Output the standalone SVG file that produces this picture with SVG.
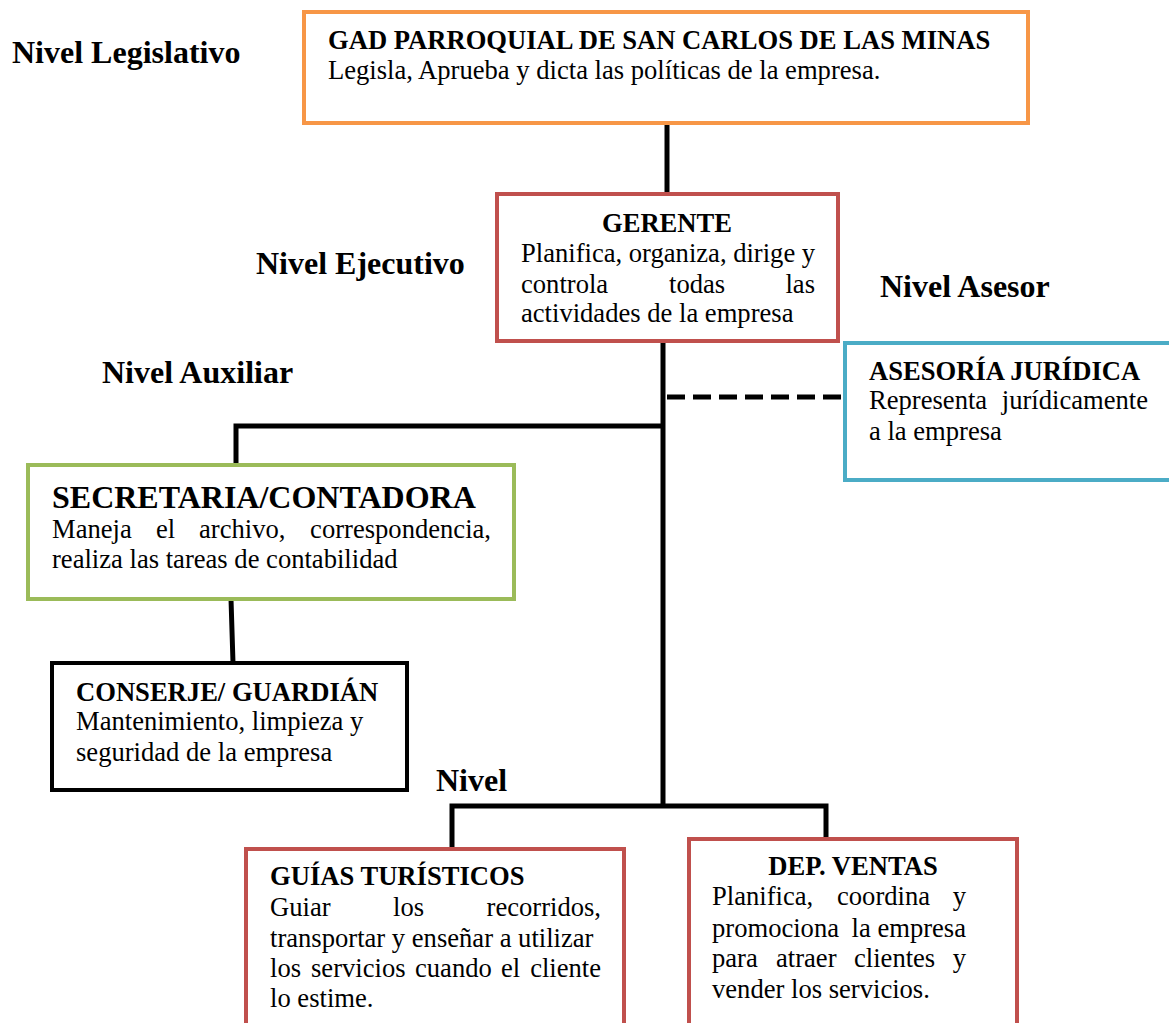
<svg xmlns="http://www.w3.org/2000/svg" width="1169" height="1023" viewBox="0 0 1169 1023">
<style>
.box{fill:#fff;stroke-width:4}
.t{font-family:"Liberation Serif","Times New Roman",serif;fill:#000;font-size:26.6px}
.b{font-weight:bold}
.big{font-size:32px}
.lvl{font-family:"Liberation Serif","Times New Roman",serif;font-weight:bold;font-size:32px;fill:#000}
.e{text-anchor:end}
.m{text-anchor:middle}
.con{stroke:#000;stroke-width:5;fill:none}
</style>
<rect width="1169" height="1023" fill="#fff"/>
<g id="levels">
<text class="lvl" x="12" y="63">Nivel Legislativo</text>
<text class="lvl" x="256" y="274">Nivel Ejecutivo</text>
<text class="lvl" x="880" y="297">Nivel Asesor</text>
<text class="lvl" x="102" y="383">Nivel Auxiliar</text>
<text class="lvl" x="436" y="791">Nivel</text>
</g>
<g id="connectors">
<line class="con" x1="667" y1="123" x2="667" y2="194"/>
<line class="con" x1="663" y1="341" x2="663" y2="807"/>
<polyline class="con" points="665,426 236,426 236,465"/>
<line class="con" x1="667" y1="397" x2="845" y2="397" stroke-dasharray="18,8"/>
<line class="con" x1="231" y1="599" x2="233" y2="663"/>
<polyline class="con" points="452,848 452,806 826,806 826,838"/>
</g>
<g id="gad">
<rect class="box" x="304" y="12" width="724" height="111" stroke="#F79646"/>
<text class="t b" x="328" y="49">GAD PARROQUIAL DE SAN CARLOS DE LAS MINAS</text>
<text class="t" x="328" y="79">Legisla, Aprueba y dicta las políticas de la empresa.</text>
</g>
<g id="gerente">
<rect class="box" x="497" y="194" width="341" height="147" stroke="#C0504D"/>
<text class="t b m" x="667" y="232">GERENTE</text>
<text class="t" x="521" y="262">Planifica, organiza, dirige y</text>
<text class="t" x="521" y="293">controla</text>
<text class="t" x="669" y="293">todas</text>
<text class="t e" x="815" y="293">las</text>
<text class="t" x="521" y="322">actividades de la empresa</text>
</g>
<g id="asesoria">
<rect class="box" x="845" y="343" width="330" height="137" stroke="#4BACC6"/>
<text class="t b" x="869" y="380">ASESORÍA JURÍDICA</text>
<text class="t" x="869" y="409">Representa</text>
<text class="t e" x="1148" y="409">jurídicamente</text>
<text class="t" x="869" y="440">a la empresa</text>
</g>
<g id="secretaria">
<rect class="box" x="28" y="465" width="486" height="134" stroke="#9BBB59"/>
<text class="t b big" x="52" y="508">SECRETARIA/CONTADORA</text>
<text class="t" x="52" y="538">Maneja</text>
<text class="t" x="156" y="538">el</text>
<text class="t" x="199" y="538">archivo,</text>
<text class="t e" x="491" y="538">correspondencia,</text>
<text class="t" x="52" y="568">realiza las tareas de contabilidad</text>
</g>
<g id="conserje">
<rect class="box" x="52" y="663" width="355" height="127" stroke="#000"/>
<text class="t b" x="76" y="701">CONSERJE/ GUARDIÁN</text>
<text class="t" x="76" y="730">Mantenimiento, limpieza y</text>
<text class="t" x="76" y="761">seguridad de la empresa</text>
</g>
<g id="guias">
<rect class="box" x="246" y="849" width="378" height="180" stroke="#C0504D"/>
<text class="t b" x="270" y="885">GUÍAS TURÍSTICOS</text>
<text class="t" x="270" y="916">Guiar</text>
<text class="t" x="393" y="916">los</text>
<text class="t e" x="601" y="916">recorridos,</text>
<text class="t" x="270" y="947">transportar y enseñar a utilizar</text>
<text class="t" x="270" y="977">los</text>
<text class="t" x="311" y="977">servicios</text>
<text class="t" x="415" y="977">cuando</text>
<text class="t" x="501" y="977">el</text>
<text class="t e" x="601" y="977">cliente</text>
<text class="t" x="270" y="1007">lo estime.</text>
</g>
<g id="ventas">
<rect class="box" x="689" y="839" width="328" height="190" stroke="#C0504D"/>
<text class="t b m" x="853" y="875">DEP. VENTAS</text>
<text class="t" x="712" y="905">Planifica,</text>
<text class="t" x="837" y="905">coordina</text>
<text class="t e" x="966" y="905">y</text>
<text class="t" x="712" y="937">promociona</text>
<text class="t e" x="966" y="937">la empresa</text>
<text class="t" x="712" y="967">para</text>
<text class="t" x="776" y="967">atraer</text>
<text class="t" x="854" y="967">clientes</text>
<text class="t e" x="966" y="967">y</text>
<text class="t" x="712" y="998">vender los servicios.</text>
</g>
</svg>
